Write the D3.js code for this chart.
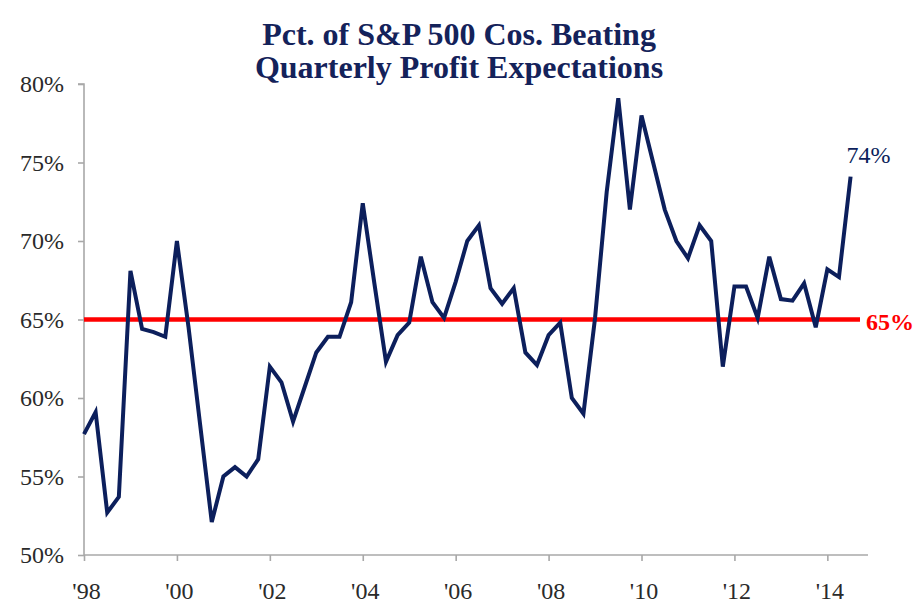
<!DOCTYPE html>
<html>
    <head>
        <meta charset="utf-8">
        <title>Pct. of S&amp;P 500 Cos. Beating</title>
        <script src="https://d3js.org/d3.v7.min.js" charset="utf-8"></script>
        <style>
            body { margin: 0; background: #fff; }
            svg text { font-family: "Liberation Serif", "DejaVu Serif", serif; }
        </style>
    </head>
    <body>
        <script>
            // data: share of S&P 500 companies beating quarterly profit expectations, Q1 1998 - Q3 2014
            var quarters = [];
            for (var yr = 1998; yr <= 2014; yr++) {
                for (var q = 1; q <= 4; q++) { quarters.push(yr + "Q" + q); }
            }
            quarters = quarters.slice(0, 67);

            var beatPct = [57.7, 59.1, 52.7, 53.7, 68.1, 64.4, 64.2, 63.9,
                           70.0, 64.5, 58.3, 52.1, 55.0, 55.6, 55.0, 56.1,
                           62.0, 61.0, 58.5, 60.7, 62.9, 63.9, 63.9, 66.1,
                           72.4, 67.3, 62.3, 64.0, 64.8, 69.0, 66.1, 65.1,
                           67.4, 70.0, 71.0, 67.0, 66.0, 67.0, 62.9, 62.1,
                           64.0, 64.8, 60.0, 59.0, 65.1, 73.1, 79.1, 72.0,
                           78.0, 75.0, 72.0, 70.0, 68.9, 71.0, 70.0, 62.0,
                           67.1, 67.1, 65.1, 69.0, 66.3, 66.2, 67.3, 64.5,
                           68.2, 67.7, 74.1];

            var yTicks = [50, 55, 60, 65, 70, 75, 80];
            var xTickQuarters = ["1998Q1", "2000Q1", "2002Q1", "2004Q1", "2006Q1", "2008Q1", "2010Q1", "2012Q1", "2014Q1"];
            var xTickLabels = ["'98", "'00", "'02", "'04", "'06", "'08", "'10", "'12", "'14"];
            var threshold = 65;
            var titleLines = ["Pct. of S&P 500 Cos. Beating", "Quarterly Profit Expectations"];

            var width = 913, height = 606;
            var margin = {top: 84, right: 45, bottom: 51, left: 84};
            var navy = "#0c1f5c";

            var svg = d3.select("body").append("svg")
                .attr("width", width)
                .attr("height", height);

            // scales - x in quarter index, y in percent
            var x = d3.scaleLinear()
                .domain([0, 67.5])
                .range([margin.left, width - margin.right]);

            var y = d3.scaleLinear()
                .domain([50, 80])
                .range([height - margin.bottom, margin.top]);

            // title
            svg.selectAll(".title")
                .data(titleLines)
                .enter().append("text")
                .attr("class", "title")
                .attr("x", 459)
                .attr("y", function(d, i) { return 45 + i * 33; })
                .attr("text-anchor", "middle")
                .style("font-size", "32px")
                .style("font-weight", "bold")
                .style("fill", "#14225a")
                .text(function(d) { return d; });

            // y axis
            var yAxis = svg.append("g")
                .attr("transform", "translate(" + margin.left + ",0)")
                .call(d3.axisLeft(y)
                    .tickValues(yTicks)
                    .tickSize(6)
                    .tickPadding(14)
                    .tickFormat(function(d) { return d + "%"; }));

            // x axis
            var xAxis = svg.append("g")
                .attr("transform", "translate(0," + (height - margin.bottom) + ")")
                .call(d3.axisBottom(x)
                    .tickValues(xTickQuarters.map(function(d) { return quarters.indexOf(d); }))
                    .tickSize(6)
                    .tickPadding(14)
                    .tickFormat(function(d, i) { return xTickLabels[i]; }));

            [yAxis, xAxis].forEach(function(g) {
                g.select(".domain").attr("stroke", "#a8a8a8").attr("stroke-width", 1.6);
                g.selectAll(".tick line").attr("stroke", "#a8a8a8").attr("stroke-width", 1.6);
                g.selectAll(".tick text")
                    .style("font-size", "24px")
                    .style("fill", "#2a2a2a");
            });
            // y axis has no outer tick at the top beyond the tick itself
            yAxis.select(".domain").attr("d", "M-6," + y(80) + "H0V" + y(50));
            xAxis.select(".domain").attr("d", "M" + margin.left + ",0H" + (width - margin.right));
            xAxis.selectAll(".tick text").attr("dy", "1.0em").attr("dx", "2");

            // 65% reference line
            svg.append("line")
                .attr("x1", x(0))
                .attr("x2", 860)
                .attr("y1", y(threshold))
                .attr("y2", y(threshold))
                .attr("stroke", "#ff0000")
                .attr("stroke-width", 4.5);

            svg.append("text")
                .attr("x", 866)
                .attr("y", y(threshold) + 10)
                .style("font-size", "24px")
                .style("font-weight", "bold")
                .style("fill", "#ff0000")
                .text(threshold + "%");

            // main line
            var line = d3.line()
                .x(function(d, i) { return x(i); })
                .y(function(d) { return y(d); });

            svg.append("path")
                .datum(beatPct)
                .attr("d", line)
                .attr("fill", "none")
                .attr("stroke", navy)
                .attr("stroke-width", 4)
                .attr("stroke-linejoin", "miter");

            // last value label
            var last = beatPct.length - 1;
            svg.append("text")
                .attr("x", x(last) - 4)
                .attr("y", y(beatPct[last]) - 14)
                .style("font-size", "24px")
                .style("fill", navy)
                .text(Math.round(beatPct[last]) + "%");
        </script>
    </body>
</html>
